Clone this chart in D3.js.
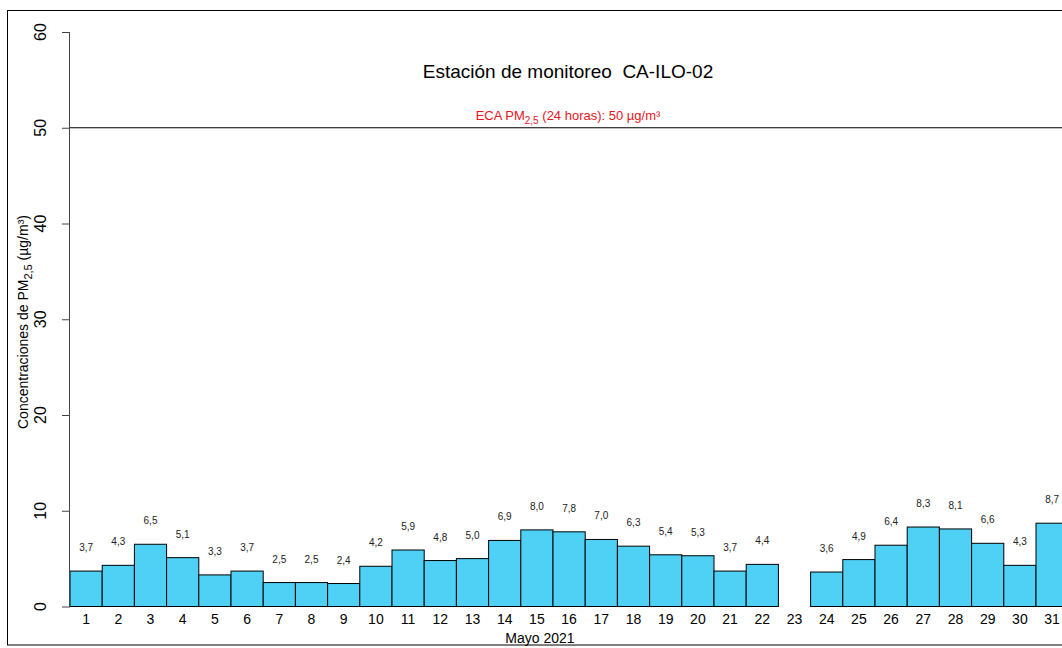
<!DOCTYPE html>
<html><head><meta charset="utf-8">
<script src="https://cdn.jsdelivr.net/npm/d3@7"></script>
<style>body{margin:0;background:#fff}svg{font-family:Arial,"Liberation Sans",sans-serif}</style>
</head><body><svg id="chart" width="1062" height="648"></svg>
<script>
const days = d3.range(1, 32);
const values = [3.7,4.3,6.5,5.1,3.3,3.7,2.5,2.5,2.4,4.2,5.9,4.8,5.0,6.9,8.0,7.8,7.0,6.3,5.4,5.3,3.7,4.4,null,3.6,4.9,6.4,8.3,8.1,6.6,4.3,8.7];
const yTicks = [0,10,20,30,40,50,60];
const limit = 50;

const svg = d3.select("#chart");
const x = d3.scaleBand().domain(days).range([70, 70 + 31 * 32.2]).padding(0);
const y = d3.scaleLinear().domain([0, 60]).range([606.5, 32]);

svg.append("rect").attr("x", 7.5).attr("y", 10.5).attr("width", 1100).attr("height", 634.5)
  .attr("fill", "none").attr("stroke", "#000");

const data = days.map((d, i) => ({ d, v: values[i] })).filter(o => o.v != null);

svg.selectAll("rect.bar").data(data).enter().append("rect").attr("class", "bar")
  .attr("x", o => x(o.d)).attr("y", o => y(o.v))
  .attr("width", x.bandwidth()).attr("height", o => y(0) - y(o.v))
  .attr("fill", "#4fd0f5").attr("stroke", "#000").attr("stroke-width", 1);

svg.selectAll("text.val").data(data).enter().append("text").attr("class", "val")
  .attr("x", o => x(o.d) + x.bandwidth() / 2).attr("y", o => y(o.v) - 20)
  .attr("text-anchor", "middle").style("font-size", "10px").style("fill", "#222")
  .text(o => o.v.toFixed(1).replace(".", ","));

// y axis
const ya = svg.append("g").attr("transform", "translate(70,0)")
  .call(d3.axisLeft(y).tickValues(yTicks).tickSize(8).tickPadding(0).tickFormat(""));
ya.select(".domain").attr("stroke", "#444").attr("d", `M-0.5,${y(60)}V${y(0)}`);
ya.selectAll(".tick line").attr("stroke", "#444");
svg.selectAll("text.yt").data(yTicks).enter().append("text").attr("class", "yt")
  .attr("transform", t => `translate(46,${y(t)}) rotate(-90)`)
  .attr("text-anchor", "middle").style("font-size", "16px").text(t => t);

// x labels
svg.selectAll("text.day").data(days).enter().append("text").attr("class", "day")
  .attr("x", d => x(d) + x.bandwidth() / 2).attr("y", 624)
  .attr("text-anchor", "middle").style("font-size", "14px").text(d => d);

svg.append("line").attr("x1", 70).attr("x2", 1062).attr("y1", y(limit)).attr("y2", y(limit))
  .attr("stroke", "#000");

svg.append("text").attr("x", 568).attr("y", 120).attr("text-anchor", "middle")
  .style("font-size", "13px").style("fill", "#e8141c")
  .html('ECA PM<tspan dy="4" font-size="10">2,5</tspan><tspan dy="-4"> (24 horas): 50 µg/m³</tspan>');

svg.append("text").attr("x", 568).attr("y", 78).attr("text-anchor", "middle")
  .style("font-size", "19px").style("white-space", "pre").text("Estación de monitoreo  CA-ILO-02");

svg.append("text").attr("x", 540).attr("y", 643).attr("text-anchor", "middle")
  .style("font-size", "14px").text("Mayo 2021");

svg.append("text").attr("transform", "translate(28,322) rotate(-90)").attr("text-anchor", "middle")
  .style("font-size", "14px")
  .html('Concentraciones de PM<tspan dy="4" font-size="11">2,5</tspan><tspan dy="-4"> (µg/m³)</tspan>');
</script></body></html>
